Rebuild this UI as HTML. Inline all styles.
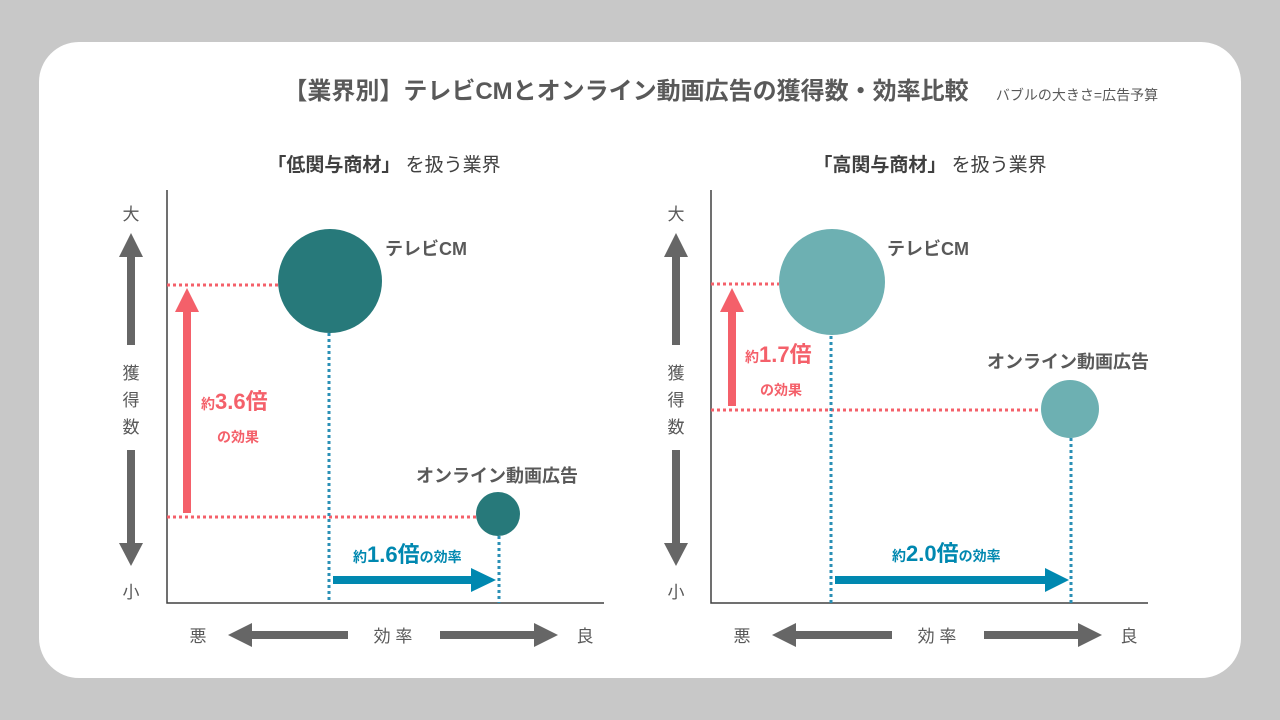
<!DOCTYPE html>
<html><head><meta charset="utf-8"><style>
html,body{margin:0;padding:0;background:#c8c8c8;width:1280px;height:720px;overflow:hidden}
svg{display:block}
text{font-family:"Liberation Sans","Noto Sans CJK JP",sans-serif}
</style></head><body>
<svg width="1280" height="720" viewBox="0 0 1280 720" xmlns="http://www.w3.org/2000/svg">
<rect x="39" y="42" width="1202" height="636" rx="40" fill="#fff"/>
<text x="626" y="99" text-anchor="middle" font-size="24" font-weight="bold" fill="#595959" font-family="Noto Sans CJK JP">【業界別】テレビCMとオンライン動画広告の獲得数・効率比較</text>
<text x="1077" y="100" text-anchor="middle" font-size="14" fill="#595959" font-family="Noto Sans CJK JP">バブルの大きさ=広告予算</text>
<text x="384" y="171" text-anchor="middle" font-size="19" fill="#404040" font-family="Noto Sans CJK JP"><tspan font-weight="bold">「低関与商材」</tspan> を扱う業界</text>
<text x="930" y="171" text-anchor="middle" font-size="19" fill="#404040" font-family="Noto Sans CJK JP"><tspan font-weight="bold">「高関与商材」</tspan> を扱う業界</text>

<g id="axes" fill="#595959" font-size="17" font-family="Noto Sans CJK JP" text-anchor="middle">
<text x="131" y="220">大</text><text x="131" y="598">小</text>
<text x="131" y="379">獲</text><text x="131" y="406">得</text><text x="131" y="433">数</text>
<text x="676" y="220">大</text><text x="676" y="598">小</text>
<text x="676" y="379">獲</text><text x="676" y="406">得</text><text x="676" y="433">数</text>
<text x="198" y="642">悪</text><text x="393" y="642">効 率</text><text x="585" y="642">良</text>
<text x="742" y="642">悪</text><text x="937" y="642">効 率</text><text x="1129" y="642">良</text>
</g>
<g fill="#666">
<rect x="127" y="255" width="8" height="90"/><path d="M119,257L131,233L143,257z"/>
<rect x="127" y="450" width="8" height="95"/><path d="M119,543L131,566L143,543z"/>
<rect x="672" y="255" width="8" height="90"/><path d="M664,257L676,233L688,257z"/>
<rect x="672" y="450" width="8" height="95"/><path d="M664,543L676,566L688,543z"/>
<rect x="250" y="631" width="98" height="8"/><path d="M252,623L228,635L252,647z"/>
<rect x="440" y="631" width="96" height="8"/><path d="M534,623L558,635L534,647z"/>
<rect x="794" y="631" width="98" height="8"/><path d="M796,623L772,635L796,647z"/>
<rect x="984" y="631" width="96" height="8"/><path d="M1078,623L1102,635L1078,647z"/>
</g>
<g stroke="#404040" stroke-width="1.5" fill="none">
<path d="M167,190V603H604"/><path d="M711,190V603H1148"/>
</g>
<g stroke-width="3" fill="none" stroke-dasharray="3 3">
<path d="M167,285H278M167,517H476" stroke="#f4606a"/>
<path d="M711,284H779M711,410H1041" stroke="#f4606a"/>
<path d="M329,333V603M499,536V603" stroke="#2a8fb5"/>
<path d="M831,336V603M1071,438V603" stroke="#2a8fb5"/>
</g>
<circle cx="330" cy="281" r="52" fill="#27797a"/>
<circle cx="498" cy="514" r="22" fill="#27797a"/>
<circle cx="832" cy="282" r="53" fill="#6db0b2"/>
<circle cx="1070" cy="409" r="29" fill="#6db0b2"/>
<g fill="#f4606a">
<rect x="183" y="308" width="8" height="205"/><path d="M175,312L187,288L199,312z"/>
<rect x="728" y="308" width="8" height="98"/><path d="M720,312L732,288L744,312z"/>
</g>
<g fill="#0088b0">
<rect x="333" y="576" width="140" height="8"/><path d="M471,568L496,580L471,592z"/>
<rect x="835" y="576" width="212" height="8"/><path d="M1045,568L1069,580L1045,592z"/>
</g>
<g font-family="Noto Sans CJK JP" font-weight="bold">
<text x="385" y="255" font-size="18" fill="#595959">テレビCM</text>
<text x="416" y="482" font-size="18" fill="#595959">オンライン動画広告</text>
<text x="887" y="255" font-size="18" fill="#595959">テレビCM</text>
<text x="987" y="368" font-size="18" fill="#595959">オンライン動画広告</text>
<text x="201" y="409" fill="#f4606a" font-size="14">約<tspan font-size="22">3.6倍</tspan></text>
<text x="217" y="442" fill="#f4606a" font-size="14">の効果</text>
<text x="745" y="362" fill="#f4606a" font-size="14">約<tspan font-size="22">1.7倍</tspan></text>
<text x="760" y="395" fill="#f4606a" font-size="14">の効果</text>
<text x="353" y="562" fill="#0088b0" font-size="14">約<tspan font-size="22">1.6倍</tspan>の効率</text>
<text x="892" y="561" fill="#0088b0" font-size="14">約<tspan font-size="22">2.0倍</tspan>の効率</text>
</g>
</svg>
</body></html>
